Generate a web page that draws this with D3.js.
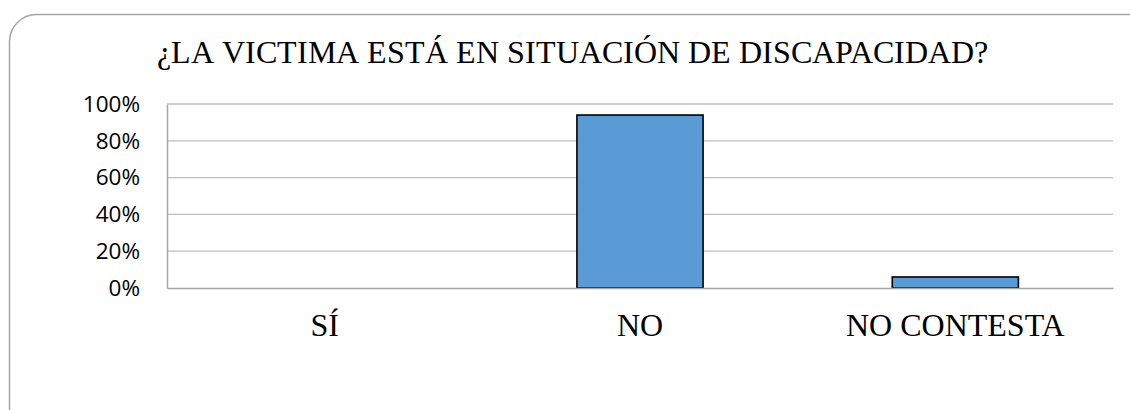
<!DOCTYPE html>
<html lang="es"><head><meta charset="utf-8">
<script src="https://cdn.jsdelivr.net/npm/d3@7"></script>
<style>
@font-face{font-family:'TitleSerif';src:local('Liberation Serif'),local('LiberationSerif'),local('Liberation Serif Regular');}
html,body{margin:0;padding:0;background:#fff;}
</style>
</head><body>
<svg id="c" width="1130" height="410"></svg>
<script>
const title = "¿LA VICTIMA ESTÁ EN SITUACIÓN DE DISCAPACIDAD?";
const categories = ["SÍ", "NO", "NO CONTESTA"];
const values = [0, 0.94, 0.06];
const yTicks = [0, 0.2, 0.4, 0.6, 0.8, 1.0];

(function () {
const svg = d3.select("#c");
const serif = "'Liberation Serif','Times New Roman',serif";
const titleFont = "'TitleSerif','Liberation Serif','Times New Roman',serif";
// rounded border
svg.append("rect").attr("x", 9.5).attr("y", 14.5).attr("width", 1150).attr("height", 425)
  .attr("rx", 27).attr("fill", "#fff").attr("stroke", "#a6a6a6").attr("stroke-width", 1.5);

const pl = 167, pr = 1113, pt = 104, pb = 288;
const x = d3.scaleBand().domain(categories).range([pl, pr]).paddingInner(0.6).paddingOuter(0.3);
const y = d3.scaleLinear().domain([0, 1]).range([pb, pt]);

// title: one text element per word, laid out left to right and centred
const words = title.split(" ");
const tg = svg.append("g");
const els = words.map(w => tg.append("text").attr("y", 63)
  .style("font-family", titleFont).style("font-size", "32px")
  .attr("fill", "#000").text(w));
const space = 8;
const widths = els.map(e => e.node().getComputedTextLength());
let cx = 572 - (d3.sum(widths) + space * (words.length - 1)) / 2;
els.forEach((e, i) => { e.attr("x", cx); cx += widths[i] + space; });

// gridlines
svg.append("g").selectAll("line").data(yTicks.filter(d => d > 0)).join("line")
  .attr("x1", pl).attr("x2", pr).attr("y1", d => y(d)).attr("y2", d => y(d))
  .attr("stroke", "#bfbfbf").attr("stroke-width", 1.3);

// y axis
const yAxis = d3.axisLeft(y).tickValues(yTicks).tickFormat(d3.format(".0%")).tickSize(0).tickPadding(27);
const gy = svg.append("g").attr("transform", `translate(${pl},0)`).call(yAxis);
gy.select(".domain").attr("stroke", "#a6a6a6").attr("stroke-width", 1.5);
gy.selectAll("text").style("font-family", "'Open Sans','Liberation Sans',sans-serif").style("font-size", "22.5px").attr("fill", "#000");

// bars
svg.append("g").selectAll("rect").data(categories).join("rect")
  .attr("x", d => x(d)).attr("width", x.bandwidth())
  .attr("y", (d, i) => y(values[i])).attr("height", (d, i) => y(0) - y(values[i]))
  .attr("fill", "#5b9bd5").attr("stroke", "#000").attr("stroke-width", 1.6)
  .attr("display", (d, i) => values[i] > 0 ? null : "none");

// x axis
const xAxis = d3.axisBottom(x).tickSize(0).tickPadding(25);
const gx = svg.append("g").attr("transform", `translate(0,${pb})`).call(xAxis);
gx.select(".domain").attr("stroke", "#a6a6a6").attr("stroke-width", 1.5);
gx.selectAll("text").style("font-family", serif).style("font-size", "32px").attr("fill", "#000");
})();
</script>
</body></html>
